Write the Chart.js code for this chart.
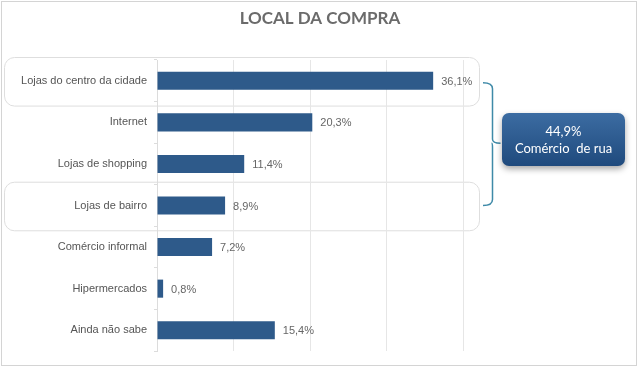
<!DOCTYPE html>
<html>
<head>
<meta charset="utf-8">
<script src="https://cdn.jsdelivr.net/npm/chart.js@4"></script>
<style>
  html, body { margin: 0; padding: 0; background: #fff; }
  #wrap { width: 638px; height: 370px; position: relative; }
</style>
</head>
<body>
<div id="wrap"><canvas id="chart_local"></canvas></div>
<script>
const categories = ['Lojas do centro da cidade', 'Internet', 'Lojas de shopping', 'Lojas de bairro', 'Comércio informal', 'Hipermercados', 'Ainda não sabe'];
const values = [36.1, 20.3, 11.4, 8.9, 7.2, 0.8, 15.4];
const xTicks = [0, 10, 20, 30, 40];
const groupTotal = '44,9%';
const groupLabel = 'Comércio  de rua';
const groupRows = [0, 3];

const fmt = v => v.toFixed(1).replace('.', ',') + '%';

function roundRect(c, x, y, w, h, r) {
    c.beginPath();
    c.moveTo(x + r, y);
    c.arcTo(x + w, y, x + w, y + h, r);
    c.arcTo(x + w, y + h, x, y + h, r);
    c.arcTo(x, y + h, x, y, r);
    c.arcTo(x, y, x + w, y, r);
    c.closePath();
}

const decorations = {
    id: 'decorations',
    beforeDraw(chart) {
        const c = chart.ctx;
        const y = chart.scales.y;
        c.save();
        // outer frame
        c.strokeStyle = '#d4d4d4';
        c.lineWidth = 1;
        c.strokeRect(1.5, 1.5, 635, 364);
        // title
        c.fillStyle = '#6b6b6b';
        c.font = 'bold 17px Lato';
        c.textAlign = 'center';
        c.textBaseline = 'middle';
        c.fillText('LOCAL DA COMPRA', 320, 19);
        // rounded boxes around grouped rows
        const half = (y.getPixelForValue(1) - y.getPixelForValue(0)) / 2;
        c.strokeStyle = '#dedede';
        groupRows.forEach(i => {
            const cy = y.getPixelForValue(i);
            roundRect(c, 4.5, cy - half - 2.5, 475, half * 2 + 7, 10);
            c.stroke();
        });
        c.restore();
    },
    afterDraw(chart) {
        const c = chart.ctx;
        const x = chart.scales.x;
        const y = chart.scales.y;
        const meta = chart.getDatasetMeta(0);
        c.save();
        // value labels
        c.fillStyle = '#666';
        c.font = '11px "Liberation Sans"';
        c.textAlign = 'left';
        c.textBaseline = 'middle';
        meta.data.forEach((bar, i) => {
            c.fillText(fmt(values[i]), bar.x + 8, bar.y + 1);
        });
        // bracket
        const top = y.getPixelForValue(groupRows[0]);
        const bot = y.getPixelForValue(groupRows[1]);
        const mid = (top + bot) / 2;
        const bx = 492.5;
        c.strokeStyle = '#3f8aa8';
        c.lineWidth = 1.5;
        c.beginPath();
        c.moveTo(483, top + 2);
        c.quadraticCurveTo(bx, top + 2, bx, top + 8);
        c.lineTo(bx, mid - 4);
        c.quadraticCurveTo(bx, mid, bx + 8, mid);
        c.moveTo(bx, mid + 4);
        c.quadraticCurveTo(bx, mid, bx - 1, mid);
        c.moveTo(bx, mid + 4);
        c.lineTo(bx, bot - 6);
        c.quadraticCurveTo(bx, bot, 483, bot);
        c.stroke();
        // summary box
        const bxL = 502, bxT = 113, bw = 123, bh = 53;
        c.shadowColor = 'rgba(0,0,0,0.35)';
        c.shadowBlur = 6;
        c.shadowOffsetY = 3;
        const g = c.createLinearGradient(0, bxT, 0, bxT + bh);
        g.addColorStop(0, '#3c6ca2');
        g.addColorStop(1, '#1f4a7d');
        c.fillStyle = g;
        roundRect(c, bxL, bxT, bw, bh, 7);
        c.fill();
        c.shadowColor = 'transparent';
        c.fillStyle = '#fff';
        c.font = '13px Lato';
        c.textAlign = 'center';
        c.fillText(groupTotal, bxL + bw / 2, 132);
        c.fillText(groupLabel, bxL + bw / 2, 149);
        c.restore();
    }
};

const ctx = document.querySelector('#chart_local').getContext('2d');
const chart = new Chart(ctx, {
    type: 'bar',
    data: {
        labels: categories,
        datasets: [{
            data: values,
            backgroundColor: '#2e5a8a',
            barPercentage: 0.87,
            categoryPercentage: 0.5
        }]
    },
    options: {
        indexAxis: 'y',
        responsive: true,
        maintainAspectRatio: false,
        animation: false,
        layout: {
            padding: { left: 0, right: 175, top: 60, bottom: 19 }
        },
        scales: {
            x: {
                min: 0,
                max: 40,
                afterBuildTicks: s => { s.ticks = xTicks.map(v => ({ value: v })); },
                ticks: { display: false },
                border: { display: false },
                grid: { color: '#e6e6e6', drawTicks: false }
            },
            y: {
                afterFit: s => { s.width = 157; },
                border: { display: true, color: '#dcdcdc' },
                grid: { drawOnChartArea: false, color: '#dcdcdc', tickLength: 3, offset: true },
                ticks: {
                    color: '#555',
                    padding: 7,
                    font: { family: 'Liberation Sans', size: 11 }
                }
            }
        },
        plugins: {
            legend: { display: false },
            tooltip: { enabled: false }
        }
    },
    plugins: [decorations]
});
</script>
</body>
</html>
